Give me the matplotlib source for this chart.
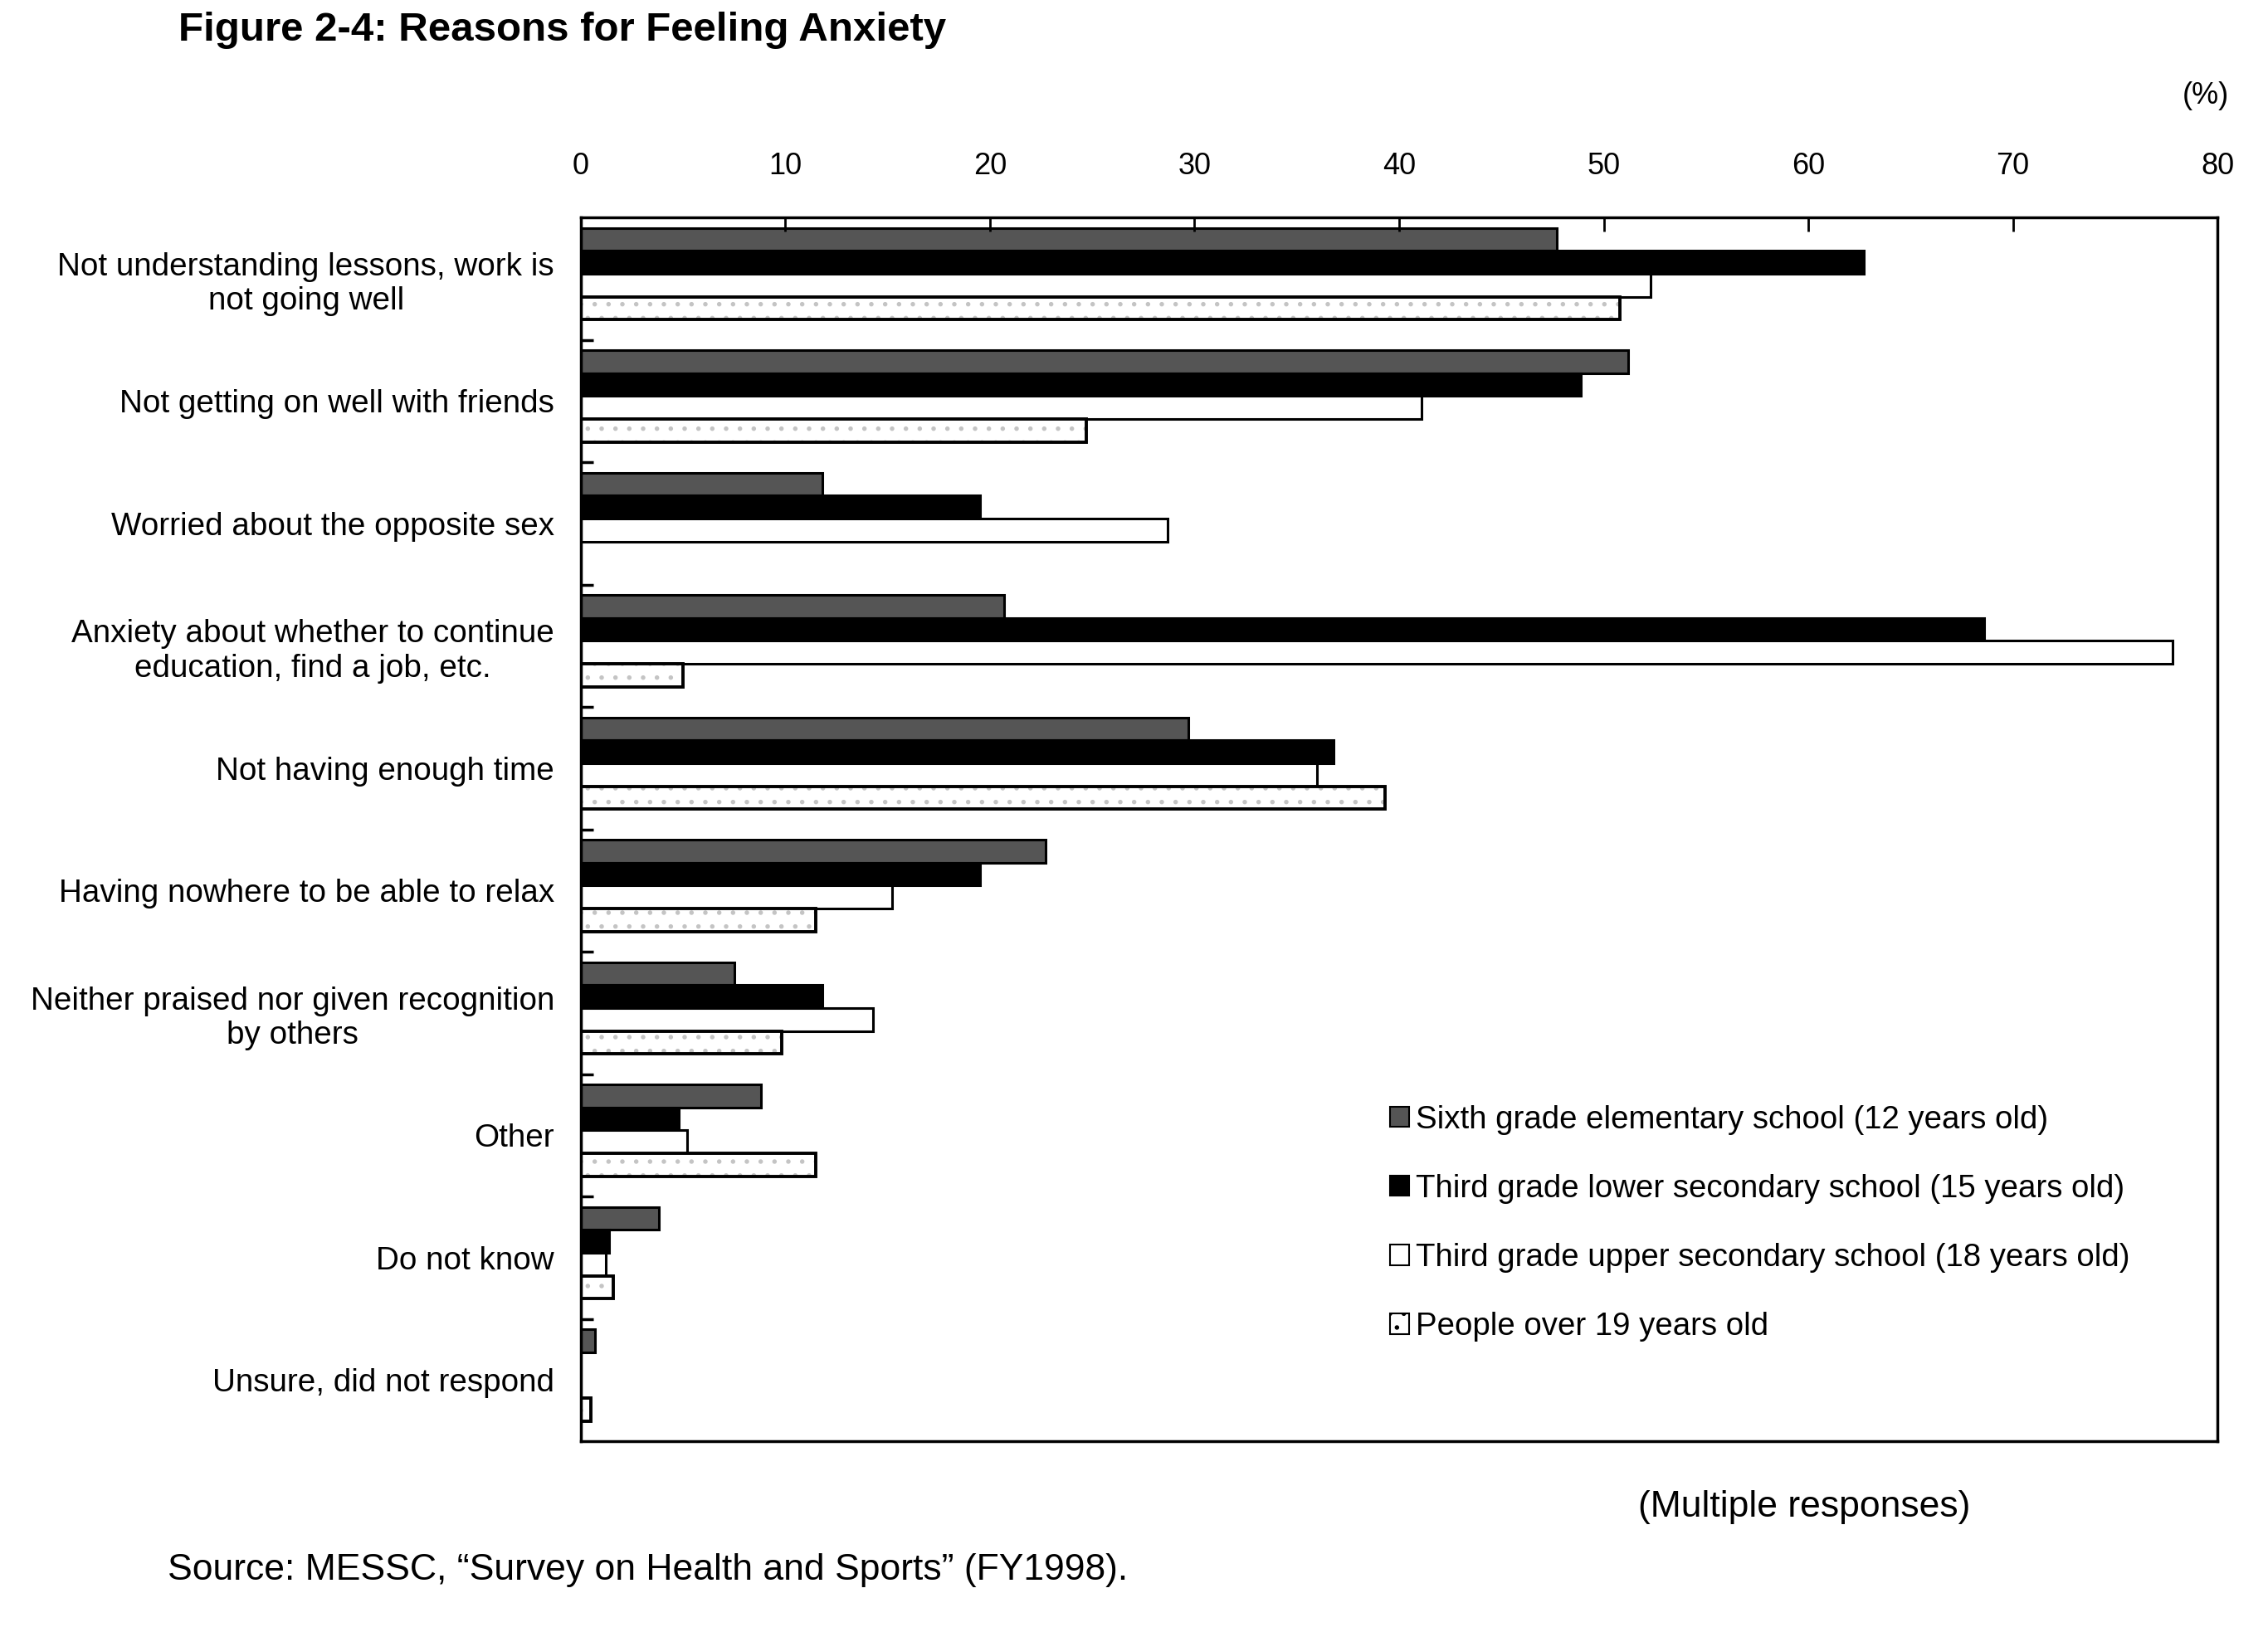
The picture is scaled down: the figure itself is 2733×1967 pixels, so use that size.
import matplotlib
matplotlib.use('Agg')
import matplotlib.pyplot as plt
from matplotlib.patches import Patch
import numpy as np

# --- data ---
categories = [
    'Not understanding lessons, work is\nnot going well',
    'Not getting on well with friends',
    'Worried about the opposite sex',
    'Anxiety about whether to continue\neducation, find a job, etc.',
    'Not having enough time',
    'Having nowhere to be able to relax',
    'Neither praised nor given recognition\nby others',
    'Other',
    'Do not know',
    'Unsure, did not respond',
]
series_names = [
    'Sixth grade elementary school (12 years old)',
    'Third grade lower secondary school (15 years old)',
    'Third grade upper secondary school (18 years old)',
    'People over 19 years old',
]
sixth = [47.7, 51.2, 11.8, 20.7, 29.7, 22.7, 7.5, 8.8, 3.8, 0.7]
lower = [62.7, 48.9, 19.5, 68.6, 36.8, 19.5, 11.8, 4.8, 1.4, 0.0]
upper = [52.3, 41.1, 28.7, 77.8, 36.0, 15.2, 14.3, 5.2, 1.2, 0.0]
people = [50.8, 24.7, 0.0, 5.0, 39.3, 11.5, 9.8, 11.5, 1.6, 0.5]
x_ticks = [0, 10, 20, 30, 40, 50, 60, 70, 80]

plt.rcParams['font.family'] = ['Liberation Sans', 'DejaVu Sans']
plt.rcParams['hatch.linewidth'] = 1.5

fig = plt.figure(figsize=(27.33, 19.67), dpi=100)
ax = fig.add_axes([0.2561, 0.1169, 0.7216, 0.7499])

# --- bars: each category takes one slot, 4 bars stacked downward ---
n = len(categories)
slot = np.arange(n)
bar_h = 0.1875
top_gap = 0.085
lw = 2.2

def ypos(j):
    return slot + top_gap + (j + 0.5) * bar_h

ax.barh(ypos(0), sixth, bar_h, color='#555555', edgecolor='black', linewidth=lw)
ax.barh(ypos(1), lower, bar_h, color='black', edgecolor='black', linewidth=lw)
ax.barh(ypos(2), upper, bar_h, color='white', edgecolor='black', linewidth=lw)
# dotted fill, then black outline on top
ax.barh(ypos(3), people, bar_h, color='white', edgecolor='#c4c4c4', hatch='.', linewidth=0)
ax.barh(ypos(3), people, bar_h, fill=False, edgecolor='black', linewidth=lw + 0.6)

# --- axes ---
ax.set_xlim(0, 80)
ax.set_ylim(n, 0)
ax.xaxis.tick_top()
ax.set_xticks(x_ticks)
ax.set_xticklabels([str(t) for t in x_ticks], fontsize=26)
ax.tick_params(axis='x', direction='in', length=12, width=2, pad=32, bottom=False)

ax.set_yticks(slot + 0.5)
ax.set_yticklabels(categories, fontsize=27.8)
ax.tick_params(axis='y', which='major', length=0, pad=23)
for t in ax.get_yticklabels():
    t.set_multialignment('center')
ax.set_yticks(np.arange(1, n), minor=True)
ax.tick_params(axis='y', which='minor', direction='in', length=11, width=2.5)

for sp in ax.spines.values():
    sp.set_linewidth(2.5)

# --- legend ---
handles = [
    Patch(facecolor='#555555', edgecolor='black', linewidth=1.5),
    Patch(facecolor='black', edgecolor='black', linewidth=1.5),
    Patch(facecolor='white', edgecolor='black', linewidth=1.5),
    Patch(facecolor='white', edgecolor='black', hatch='.', linewidth=1.5),
]
fig.legend(handles, series_names, loc='upper left', bbox_to_anchor=(0.613, 0.323),
           frameon=False, fontsize=27.6, handlelength=0.6, handleheight=0.6,
           handletextpad=0.2, labelspacing=1.23, borderpad=0, borderaxespad=0)

# --- texts ---
fig.text(0.0787, 0.993, 'Figure 2-4: Reasons for Feeling Anxiety', fontsize=35.5,
         fontweight='bold', ha='left', va='top')
fig.text(0.9725, 0.9415, '(%)', fontsize=26, ha='center', va='center')
fig.text(0.7955, 0.0767, '(Multiple responses)', fontsize=32, ha='center', va='center')
fig.text(0.0739, 0.038, 'Source: MESSC, \u201cSurvey on Health and Sports\u201d (FY1998).',
         fontsize=32, ha='left', va='center')

fig.savefig('out.png', dpi=100)
